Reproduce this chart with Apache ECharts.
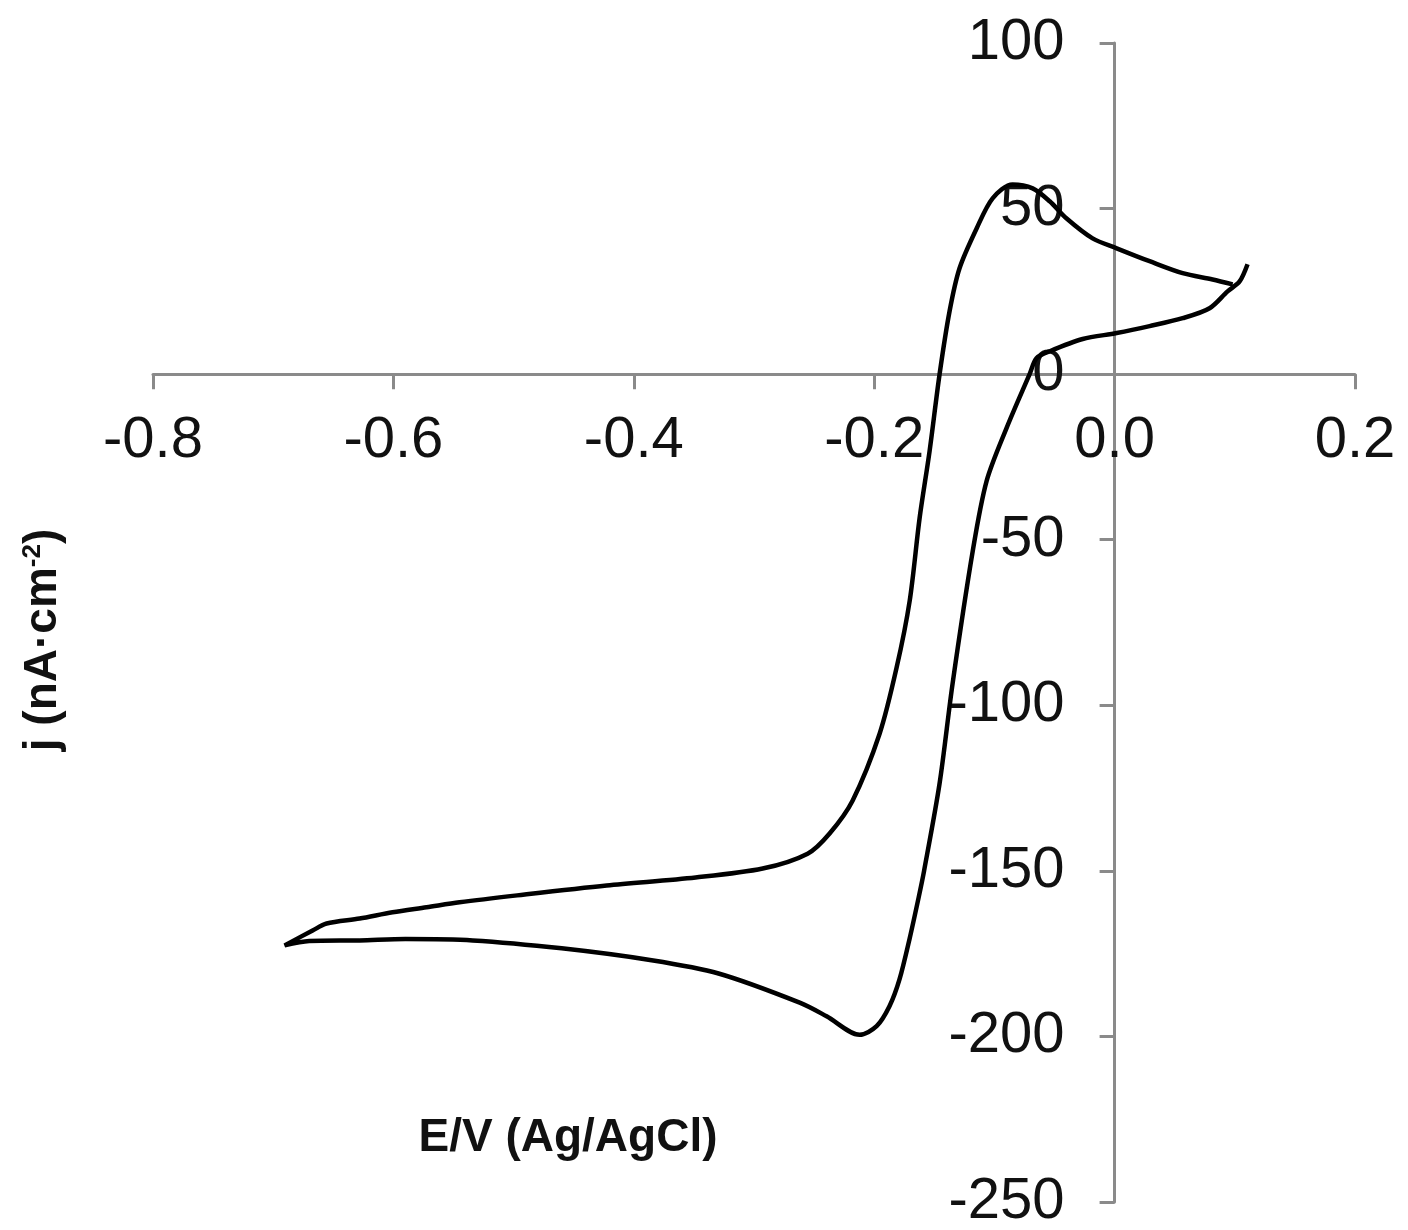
<!DOCTYPE html>
<html>
<head>
<meta charset="utf-8">
<script src="https://cdn.jsdelivr.net/npm/echarts@6/dist/echarts.min.js"></script>
<style>
  html, body { margin: 0; padding: 0; background: #fff; }
  #cv { width: 1408px; height: 1230px; }
</style>
</head>
<body>
<div id="cv"></div>
<script>
// cathodic sweep (from the right end, going negative)
const cathodicE = [0.1106, 0.104, 0.094, 0.079, 0.0566, 0.0291, 0.0017, -0.0266, -0.054, -0.065,
  -0.0707, -0.0899, -0.1065, -0.118, -0.1348, -0.1456, -0.1585, -0.163, -0.1705, -0.1789,
  -0.1872, -0.198, -0.2121, -0.2396, -0.262, -0.3295, -0.3852, -0.46, -0.534, -0.59,
  -0.628, -0.67, -0.6905]
const cathodicJ = [33.2, 28.0, 25.0, 19.9, 16.9, 14.5, 12.4, 10.6, 6.9, 4.8,
  0, -16.3, -32.3, -53.4, -93.5, -123.6, -150, -158, -170.4, -182.7,
  -190.8, -196.9, -199.5, -193.9, -189.8, -181, -177, -173.4, -171, -170.6,
  -171, -171.2, -172.5]
// anodic sweep (back to the right)
const anodicE = [-0.6672, -0.6556, -0.6281, -0.6007, -0.5724, -0.545, -0.497, -0.4226, -0.3486, -0.2928,
  -0.2554, -0.2371, -0.218, -0.1955, -0.1814, -0.1705, -0.1622, -0.1539, -0.1456, -0.1373,
  -0.129, -0.1148, -0.1015, -0.0849, -0.0682, -0.054, -0.0399, -0.0183, 0.0017, 0.0291,
  0.0566, 0.0815, 0.0982]
const anodicJ = [-168, -165.9, -164.4, -162.5, -161, -159.5, -157.4, -154.4, -152, -149.3,
  -144.8, -138.7, -128.8, -108.6, -88.7, -68.5, -43.4, -23.2, 0, 19,
  32, 44, 53.1, 57.3, 56.1, 52.2, 47, 41, 38, 34.1,
  30.5, 28.6, 27.1]

const xTitle = 'E/V (Ag/AgCl)'
const yTitle = 'j (nA·cm{sup|-2})'

const curve = cathodicE.map((e, i) => [e, cathodicJ[i]])
  .concat(anodicE.map((e, i) => [e, anodicJ[i]]))

const axisColor = '#8a8a8a'
const font = "'Liberation Sans', Arial, sans-serif"

// plot box in pixels, axes cross at (0, 0)
const grid = { left: 153, right: 53, top: 43, bottom: 28 }
const plotW = 1408 - grid.left - grid.right
const plotH = 1230 - grid.top - grid.bottom
const xMin = -0.8, xMax = 0.2, yMin = -250, yMax = 100
// move axes from the box edges onto zero
const xAxisOffset = -plotH * (0 - yMin) / (yMax - yMin)
const yAxisOffset = -plotW * (0 - xMin) / (xMax - xMin)

const chart = echarts.init(document.getElementById('cv'))
chart.setOption({
  animation: false,
  grid: Object.assign({ outerBoundsMode: 'none', containLabel: false }, grid),
  xAxis: {
    type: 'value',
    position: 'bottom',
    offset: xAxisOffset,
    min: xMin, max: xMax, interval: 0.2,
    axisLine: { show: true, onZero: false, lineStyle: { color: axisColor, width: 3 } },
    axisTick: { show: true, length: 15, lineStyle: { color: axisColor, width: 3 } },
    splitLine: { show: false },
    axisLabel: {
      margin: 38, fontSize: 58, color: '#111', fontFamily: font,
      formatter: v => v.toFixed(1)
    }
  },
  yAxis: {
    type: 'value',
    position: 'left',
    offset: yAxisOffset,
    min: yMin, max: yMax, interval: 50,
    axisLine: { show: true, onZero: false, lineStyle: { color: axisColor, width: 3 } },
    axisTick: { show: true, length: 15, lineStyle: { color: axisColor, width: 3 } },
    splitLine: { show: false },
    axisLabel: { margin: 50, fontSize: 58, color: '#111', fontFamily: font }
  },
  graphic: [
    {
      type: 'text', x: 568, y: 1138,
      style: {
        text: xTitle, font: 'bold 46px ' + font, fill: '#111',
        textAlign: 'center', textVerticalAlign: 'middle'
      }
    },
    {
      type: 'text', x: 43, y: 640, rotation: Math.PI / 2,
      style: {
        text: yTitle, fontSize: 46, fontWeight: 'bold', fontFamily: font, fill: '#111',
        align: 'center', verticalAlign: 'middle',
        rich: { sup: { fontSize: 26, fontWeight: 'bold', fontFamily: font, verticalAlign: 'top' } }
      }
    }
  ],
  series: [{
    type: 'line',
    data: curve,
    showSymbol: false,
    smooth: 0.3,
    lineStyle: { color: '#000', width: 4.5 },
    z: 5
  }]
})
</script>
</body>
</html>
